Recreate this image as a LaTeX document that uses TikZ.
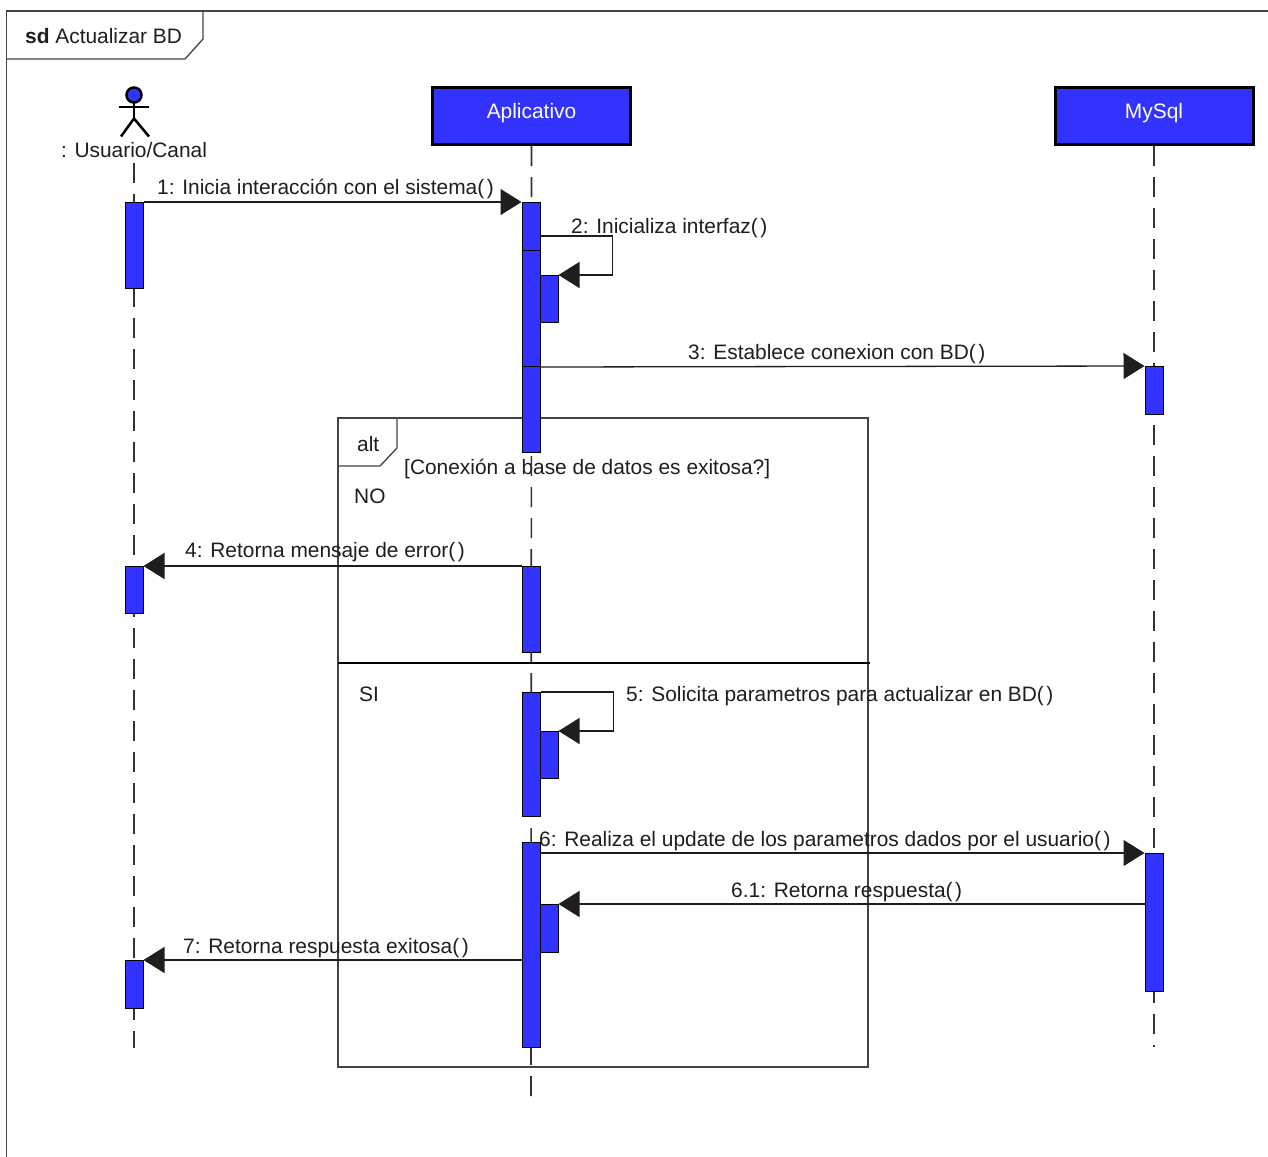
\documentclass[tikz,border=0pt]{standalone}
\usepackage{fontspec}
\setmainfont{Liberation Sans}
\usetikzlibrary{arrows.meta}
\definecolor{umlblue}{RGB}{51,51,255}
\definecolor{framegray}{RGB}{68,68,68}
\definecolor{inkc}{RGB}{30,30,30}
\newcommand\mybar[4]{\node[actbar, minimum height={#4-#3}] (#1) at (#2,#3) {};}
\newcommand\pp{(\kern2.5pt)}
\begin{document}
\begin{tikzpicture}[x=1pt,y=-1pt,
  every node/.style={font=\fontsize{20.9}{24}\selectfont},
  actbar/.style={draw=black, line width=1pt, fill=umlblue, minimum width=18pt, inner sep=0pt, anchor=north},
  lifebox/.style={draw=black, line width=3pt, fill=umlblue, minimum width=198pt, minimum height=57pt, text=white, text height=14.6pt, text depth=10pt, inner sep=0pt},
  lifeline/.style={draw=black!80, line width=1.6pt, dash pattern=on 20pt off 11pt},
  msgline/.style={draw=inkc, line width=1.3pt, -{Triangle[length=21pt,width=26pt]}},
  msglabel/.style={anchor=base west, inner sep=0pt, text=inkc},
  framel/.style={draw=framegray, line width=1.3pt},
  actorl/.style={draw=black, line width=2.5pt}
]
\useasboundingbox (0,0) rectangle (1268,1156);
\fill[white] (0,0) rectangle (1268,1156);
\clip (0,0) rectangle (1268,1156);

% outer frame
\draw[framel] (1300,11) -- (6.5,11) -- (6.5,1200);
\draw[framel] (6.5,59) -- (185,59) -- (203,39) -- (203,11);
\node[msglabel] (title) at (25,44) {\textbf{sd} Actualizar BD};

% alt fragment
\draw[framel] (338,418) rectangle (868,1067);
\draw[framel] (338,466) -- (380,466) -- (397,448) -- (397,418);
\draw[draw=black, line width=1.6pt] (338,663) -- (870,663);
\node[msglabel] (alt) at (357,451) {alt};
\node[msglabel] (guard) at (404,474) {[Conexión a base de datos es exitosa?]};
\node[msglabel] (no) at (354,503) {NO};
\node[msglabel] (si) at (359,701) {SI};

% actor
\coordinate (actor) at (134,95);
\draw[actorl, fill=umlblue] (actor) circle (7.5);
\draw[actorl] ([yshift=-12pt]actor) ++(-15,0) -- ++(30,0);
\draw[actorl] ([yshift=-7.5pt]actor) -- ++(0,16) coordinate (hip);
\draw[actorl] (hip) ++(-13,18) -- (hip) -- ++(15,18);
\node[anchor=base, inner sep=0pt, text=inkc] (user) at (134,157) {: Usuario/Canal};

% lifeline heads
\node[lifebox] (app) at (531.5,116) {Aplicativo};
\node[lifebox] (db) at (1154,116) {MySql};

% lifelines
\coordinate (userTop) at (134,163);
\coordinate (userEnd) at (134,1048);
\coordinate (appEnd) at (531,1097);
\coordinate (dbEnd) at (1154,1047);
\draw[lifeline] (userTop) -- (userEnd);
\draw[lifeline] (app.south) -- (appEnd);
\draw[lifeline] (db.south) -- (dbEnd);

% activation bars
\mybar{u1}{134}{202}{288}
\mybar{u2}{134}{566}{613}
\mybar{u3}{134}{960}{1008}
\mybar{a1}{531}{202}{250}
\mybar{a2}{531}{250}{366}
\mybar{a3}{549}{275}{322}
\mybar{a4}{531}{366}{452}
\mybar{a5}{531}{566}{652}
\mybar{a6}{531}{692}{816}
\mybar{a7}{549}{731}{778}
\mybar{a8}{531}{842}{1047}
\mybar{a9}{549}{904}{952}
\mybar{m1}{1154}{366}{414}
\mybar{m2}{1154}{853}{991}

% messages
\draw[msgline] (u1.north east) -- (a1.north west);
\draw[msgline] ([yshift=-34pt]a1.north east) -- ++(72,0) |- (a3.north east);
\draw[msgline] (a2.south east) -- (m1.north west);
\draw[msgline] (a5.north west) -- (u2.north east);
\draw[msgline] (a6.north east) -- ++(73,0) |- (a7.north east);
\draw[msgline] (a8.east |- m2.north) -- (m2.north west);
\draw[msgline] (m2.west |- a9.north) -- (a9.north east);
\draw[msgline] (a8.west |- u3.north) -- (u3.north east);

% message labels
\node[msglabel] (l1) at (157,194) {1: Inicia interacción con el sistema\pp};
\node[msglabel] (l2) at (571,233) {2: Inicializa interfaz\pp};
\node[msglabel] (l3) at (688,359) {3: Establece conexion con BD\pp};
\node[msglabel] (l4) at (185,557) {4: Retorna mensaje de error\pp};
\node[msglabel] (l5) at (626,701) {5: Solicita parametros para actualizar en BD\pp};
\node[msglabel] (l6) at (539,846) {6: Realiza el update de los parametros dados por el usuario\pp};
\node[msglabel] (l61) at (731,897) {6.1: Retorna respuesta\pp};
\node[msglabel] (l7) at (183,953) {7: Retorna respuesta exitosa\pp};
\end{tikzpicture}
\end{document}
